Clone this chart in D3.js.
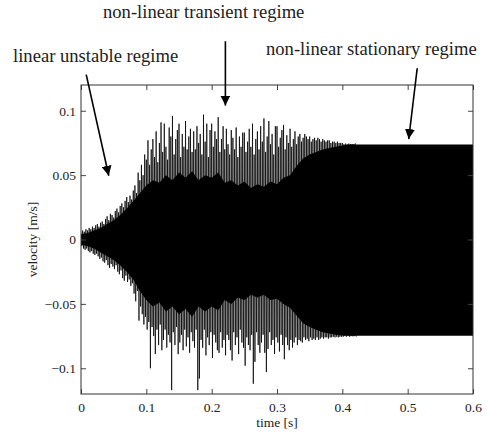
<!DOCTYPE html>
<html>
<head>
<meta charset="utf-8">
<script src="https://cdn.jsdelivr.net/npm/d3@7"></script>
<style>
  body { margin: 0; background: #fff; }
  text { font-family: "Liberation Serif", "Times New Roman", serif; fill: #222; }
</style>
</head>
<body>
<div id="wrapper"></div>
<script>
// sampling grid of the peaks (s), peaks are read up to t = 0.42 s
var peakStep = 0.0025
// positive peaks of velocity, one every peakStep starting at t = 0
var upperPeaks = [
  0.005, 0.007, 0.006, 0.008, 0.007, 0.009, 0.008, 0.010, 0.009, 0.011,
  0.012, 0.010, 0.013, 0.014, 0.012, 0.016, 0.018, 0.015, 0.020, 0.019,
  0.017, 0.022, 0.024, 0.021, 0.026, 0.028, 0.025, 0.030, 0.033, 0.029,
  0.034, 0.031, 0.038, 0.042, 0.036, 0.052, 0.046, 0.058, 0.050, 0.066,
  0.062, 0.077, 0.058, 0.070, 0.078, 0.064, 0.084, 0.060, 0.075, 0.091,
  0.068, 0.090, 0.072, 0.062, 0.087, 0.080, 0.096, 0.066, 0.078, 0.085,
  0.090, 0.064, 0.082, 0.072, 0.092, 0.070, 0.080, 0.086, 0.068, 0.084,
  0.070, 0.088, 0.075, 0.082, 0.066, 0.097, 0.076, 0.090, 0.064, 0.085,
  0.090, 0.072, 0.084, 0.078, 0.095, 0.068, 0.078, 0.088, 0.070, 0.086,
  0.074, 0.066, 0.085, 0.079, 0.070, 0.087, 0.064, 0.080, 0.072, 0.083,
  0.083, 0.068, 0.076, 0.086, 0.072, 0.090, 0.066, 0.078, 0.084, 0.070,
  0.088, 0.076, 0.094, 0.068, 0.080, 0.092, 0.074, 0.082, 0.066, 0.088,
  0.088, 0.072, 0.079, 0.085, 0.089, 0.070, 0.081, 0.075, 0.086, 0.072,
  0.078, 0.084, 0.074, 0.080, 0.082, 0.076, 0.079, 0.082, 0.080, 0.078,
  0.080, 0.076, 0.078, 0.079, 0.077, 0.079, 0.078, 0.076, 0.078, 0.077,
  0.076, 0.077, 0.077, 0.075, 0.076, 0.076, 0.075, 0.076, 0.075, 0.075,
  0.075, 0.074, 0.0745, 0.074, 0.0745, 0.074, 0.0742, 0.074, 0.0745
]
// negative peaks, half a step after each positive one
var lowerPeaks = [
  -0.005, -0.007, -0.008, -0.007, -0.009, -0.010, -0.009, -0.011, -0.012, -0.011,
  -0.013, -0.015, -0.014, -0.017, -0.018, -0.016, -0.020, -0.022, -0.019, -0.021,
  -0.023, -0.020, -0.025, -0.027, -0.024, -0.030, -0.032, -0.028, -0.033, -0.031,
  -0.036, -0.034, -0.042, -0.048, -0.040, -0.063, -0.052, -0.058, -0.066, -0.060,
  -0.070, -0.064, -0.100, -0.068, -0.075, -0.089, -0.070, -0.082, -0.066, -0.086,
  -0.078, -0.070, -0.084, -0.074, -0.080, -0.117, -0.072, -0.082, -0.068, -0.089,
  -0.080, -0.074, -0.086, -0.070, -0.083, -0.076, -0.088, -0.072, -0.079, -0.084,
  -0.070, -0.117, -0.108, -0.078, -0.084, -0.070, -0.090, -0.076, -0.082, -0.072,
  -0.092, -0.074, -0.080, -0.086, -0.088, -0.072, -0.084, -0.078, -0.090, -0.074,
  -0.078, -0.086, -0.094, -0.072, -0.082, -0.076, -0.089, -0.070, -0.080, -0.084,
  -0.098, -0.076, -0.082, -0.086, -0.074, -0.112, -0.095, -0.072, -0.082, -0.088,
  -0.080, -0.074, -0.088, -0.103, -0.085, -0.072, -0.082, -0.078, -0.089, -0.076,
  -0.080, -0.087, -0.074, -0.082, -0.093, -0.076, -0.082, -0.086, -0.078, -0.084,
  -0.080, -0.076, -0.082, -0.078, -0.079, -0.080, -0.076, -0.078, -0.077, -0.079,
  -0.076, -0.078, -0.077, -0.078, -0.076, -0.078, -0.077, -0.076, -0.077, -0.076,
  -0.076, -0.077, -0.076, -0.076, -0.0755, -0.076, -0.0755, -0.076, -0.0755, -0.0755,
  -0.0755, -0.075, -0.0755, -0.075, -0.0755, -0.075, -0.0752, -0.075, -0.0755
]
// dense (solid black) part of the signal, every 0.01 s
var coreTime = d3.range(0, 0.6001, 0.01)
var coreHigh = [
  0.004, 0.005, 0.007, 0.009, 0.012, 0.015, 0.019, 0.024, 0.030, 0.036,
  0.042, 0.046, 0.044, 0.050, 0.046, 0.052, 0.048, 0.053, 0.046, 0.050,
  0.048, 0.052, 0.044, 0.046, 0.042, 0.045, 0.040, 0.043, 0.041, 0.045,
  0.043, 0.048, 0.050, 0.057, 0.063, 0.066, 0.068, 0.070, 0.071, 0.072,
  0.073, 0.0738, 0.0738, 0.0738, 0.0738, 0.0738, 0.0738, 0.0738, 0.0738, 0.0738,
  0.0738, 0.0738, 0.0738, 0.0738, 0.0738, 0.0738, 0.0738, 0.0738, 0.0738, 0.0738, 0.0738]
var coreLow = [
  -0.004, -0.005, -0.007, -0.010, -0.013, -0.016, -0.020, -0.025, -0.031, -0.040,
  -0.047, -0.052, -0.049, -0.056, -0.052, -0.058, -0.054, -0.060, -0.052, -0.056,
  -0.052, -0.055, -0.047, -0.050, -0.045, -0.047, -0.043, -0.045, -0.043, -0.047,
  -0.046, -0.050, -0.053, -0.059, -0.065, -0.068, -0.070, -0.072, -0.073, -0.074,
  -0.0745, -0.0748, -0.0748, -0.0748, -0.0748, -0.0748, -0.0748, -0.0748, -0.0748, -0.0748,
  -0.0748, -0.0748, -0.0748, -0.0748, -0.0748, -0.0748, -0.0748, -0.0748, -0.0748, -0.0748, -0.0748]

var xTicks = [0, 0.1, 0.2, 0.3, 0.4, 0.5, 0.6]
var yTicks = [-0.1, -0.05, 0, 0.05, 0.1]

var annotations = [
  { label: "non-linear transient regime", from: [0.221, 0.154], to: [0.221, 0.104] },
  { label: "linear unstable regime", from: [0.008, 0.128], to: [0.0425, 0.0495] },
  { label: "non-linear stationary regime", from: [0.5146, 0.133], to: [0.5016, 0.078] }
]

// Set the dimensions and margins of the graph
var margin = { top: 85, right: 15, bottom: 40, left: 81 },
  width = 488 - margin.left - margin.right,
  height = 434 - margin.top - margin.bottom;

var svg = d3.select("#wrapper")
  .append("svg")
  .attr("width", 488)
  .attr("height", 434)
  .append("g")
  .attr("transform", "translate(" + margin.left + "," + margin.top + ")")

var x = d3.scaleLinear().domain([0, 0.6]).range([0, width])
var y = d3.scaleLinear().domain([-0.12, 0.12]).range([height, 0])

svg.append("clipPath").attr("id", "clip")
  .append("rect").attr("width", width).attr("height", height)

var plot = svg.append("g").attr("clip-path", "url(#clip)")

// peaks, joined up/down as the oscillating trace
var trace = []
upperPeaks.forEach(function (v, i) {
  trace.push([i * peakStep, v])
  if (i < lowerPeaks.length) trace.push([i * peakStep + peakStep / 2, lowerPeaks[i]])
})
plot.append("path")
  .datum(trace)
  .attr("fill", "none")
  .attr("stroke", "#000")
  .attr("stroke-width", 0.75)
  .attr("d", d3.line().x(d => x(d[0])).y(d => y(d[1])))

// solid core of the oscillation, drawn on top
var core = coreTime.map((t, i) => ({ t: t, hi: coreHigh[i], lo: coreLow[i] }))
plot.append("path")
  .datum(core)
  .attr("fill", "#000")
  .attr("d", d3.area().x(d => x(d.t)).y0(d => y(d.lo)).y1(d => y(d.hi)))

// Axes, ticks pointing inward on all four sides
function styleAxis(g) {
  g.select(".domain").remove()
  g.selectAll(".tick line").attr("stroke", "#444")
  g.selectAll(".tick text").style("font-size", "13.5px").attr("fill", "#222")
    .style("font-family", "'Liberation Serif', serif")
}
svg.append("g")
  .attr("transform", "translate(0," + height + ")")
  .call(d3.axisBottom(x).tickValues(xTicks).tickSize(-5).tickPadding(8).tickFormat(d3.format("")))
  .call(styleAxis)
svg.append("g")
  .call(d3.axisTop(x).tickValues(xTicks).tickSize(-5).tickFormat(""))
  .call(styleAxis)
svg.append("g")
  .call(d3.axisLeft(y).tickValues(yTicks).tickSize(-5).tickPadding(5).tickFormat(d3.format("")))
  .call(styleAxis)
svg.append("g")
  .attr("transform", "translate(" + width + ",0)")
  .call(d3.axisRight(y).tickValues(yTicks).tickSize(-5).tickFormat(""))
  .call(styleAxis)

svg.append("rect")
  .attr("width", width).attr("height", height)
  .attr("fill", "none").attr("stroke", "#333").attr("stroke-width", 1)

// Text for axes
svg.append("text")
  .attr("x", width / 2)
  .attr("y", height + 33)
  .style("font-size", "13.5px")
  .style("text-anchor", "middle")
  .text("time [s]")

svg.append("text")
  .attr("transform", "translate(-44," + (height / 2) + ") rotate(-90)")
  .style("font-size", "13.5px")
  .style("text-anchor", "middle")
  .text("velocity [m/s]")

// Annotations with arrows
svg.append("defs").append("marker")
  .attr("id", "head")
  .attr("viewBox", "0 0 10 10")
  .attr("refX", 10).attr("refY", 5)
  .attr("markerWidth", 10).attr("markerHeight", 10)
  .attr("markerUnits", "userSpaceOnUse")
  .attr("orient", "auto")
  .append("path").attr("d", "M0,0L10,5L0,10Z").attr("fill", "#000")

svg.selectAll(".arrow")
  .data(annotations)
  .enter()
  .append("line")
  .attr("class", "arrow")
  .attr("x1", d => x(d.from[0])).attr("y1", d => y(d.from[1]))
  .attr("x2", d => x(d.to[0])).attr("y2", d => y(d.to[1]))
  .attr("stroke", "#000").attr("stroke-width", 1.6)
  .attr("marker-end", "url(#head)")

var labelPos = [[22, -67], [-68, -23], [185, -30]]
svg.selectAll(".note")
  .data(annotations)
  .enter()
  .append("text")
  .attr("class", "note")
  .attr("x", (d, i) => labelPos[i][0])
  .attr("y", (d, i) => labelPos[i][1])
  .style("font-size", "18.6px")
  .text(d => d.label)
</script>
</body>
</html>
